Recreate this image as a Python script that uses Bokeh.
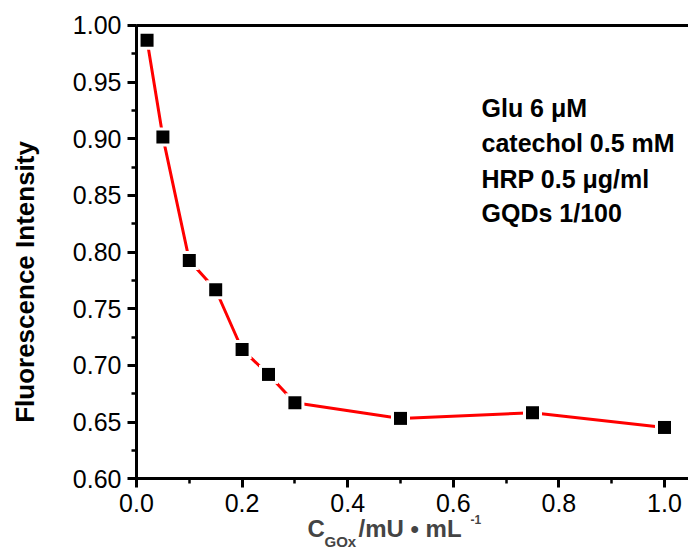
from bokeh.plotting import figure
from bokeh.models import (Range1d, SingleIntervalTicker, NumeralTickFormatter,
                          Label, LinearAxis, FixedTicker)
from bokeh.embed import file_html
from bokeh.resources import INLINE
import math

# ---- data ----
c_gox = [0.02, 0.05, 0.10, 0.15, 0.20, 0.25, 0.30, 0.50, 0.75, 1.00]
intensity = [0.987, 0.9015, 0.7927, 0.7668, 0.7141, 0.6921, 0.6671, 0.6533, 0.6583, 0.6453]
notes = ["Glu 6 \u03bcM", "catechol 0.5 mM", "HRP 0.5 \u03bcg/ml", "GQDs 1/100"]

FONT = "Liberation Sans"
W, H = 688, 550
X0PX, XSCALE = 136, 528.0       # pixel of x=0, pixels per unit
Y0PX, YSCALE = 478.3, 1133.3    # pixel of y=0.6, pixels per unit

x_start = -X0PX / XSCALE
x_end = (W - X0PX) / XSCALE
y_start = 0.6 - (H - Y0PX) / YSCALE
y_end = 0.6 + Y0PX / YSCALE

p = figure(width=W, height=H, output_backend="svg", toolbar_location=None,
           x_range=Range1d(x_start, x_end), y_range=Range1d(y_start, y_end),
           min_border=0, x_axis_type=None, y_axis_type=None)
p.outline_line_color = None
p.background_fill_color = "white"
p.border_fill_color = "white"


def style(ax):
    ax.axis_line_width = 3
    ax.axis_line_color = "black"
    ax.major_tick_line_width = 3
    ax.major_tick_in = 0
    ax.major_tick_out = 9
    ax.minor_tick_line_width = 2.5
    ax.minor_tick_in = 0
    ax.minor_tick_out = 5
    ax.major_label_text_font = FONT
    ax.major_label_text_font_size = "25px"
    ax.major_label_text_color = "black"
    ax.major_label_standoff = 6


xaxis = LinearAxis(ticker=SingleIntervalTicker(interval=0.2, num_minor_ticks=2),
                   formatter=NumeralTickFormatter(format="0.0"),
                   fixed_location=0.6, bounds=(0, x_end))
style(xaxis)
p.add_layout(xaxis, "below")

yaxis = LinearAxis(ticker=SingleIntervalTicker(interval=0.05, num_minor_ticks=2),
                   formatter=NumeralTickFormatter(format="0.00"),
                   fixed_location=0, bounds=(0.6, 1.0))
style(yaxis)
p.add_layout(yaxis, "left")

top = LinearAxis(ticker=FixedTicker(ticks=[]), fixed_location=1.0,
                 bounds=(0, x_end), axis_line_width=3, axis_line_color="black")
p.add_layout(top, "above")

# data
p.line(c_gox, intensity, line_color="red", line_width=3)
p.scatter(c_gox, intensity, marker="square", size=19, fill_color="white",
          line_color=None)
p.scatter(c_gox, intensity, marker="square", size=13, fill_color="black",
          line_color=None)

# y axis title
p.add_layout(Label(x=0, y=0.7737, x_offset=-112, text="Fluorescence Intensity",
                   angle=math.pi / 2, text_align="center", text_baseline="middle",
                   text_font=FONT, text_font_style="bold", text_font_size="26px",
                   text_color="black"))

# x axis title pieces
x0 = (307 - X0PX) / XSCALE
p.add_layout(Label(x=x0, y=0.6, x_offset=0, y_offset=-50, text="C",
                   text_baseline="alphabetic", text_font=FONT,
                   text_font_style="bold", text_font_size="24px"))
p.add_layout(Label(x=x0, y=0.6, x_offset=17, y_offset=-63, text="GOx",
                   text_baseline="alphabetic", text_font=FONT,
                   text_font_style="bold", text_font_size="15px"))
p.add_layout(Label(x=x0, y=0.6, x_offset=51, y_offset=-50,
                   text="/mU \u2022 mL", text_baseline="alphabetic", text_font=FONT,
                   text_font_style="bold", text_font_size="24px"))
p.add_layout(Label(x=x0, y=0.6, x_offset=163, y_offset=-41, text="-1",
                   text_baseline="alphabetic", text_font=FONT,
                   text_font_style="bold", text_font_size="12px"))

# annotation block
note_px = [107, 142, 178, 212]
for t, py in zip(notes, note_px):
    p.add_layout(Label(x=(481 - X0PX) / XSCALE, y=0.6 + (Y0PX - py) / YSCALE,
                       text=t, text_baseline="alphabetic", text_font=FONT,
                       text_font_style="bold", text_font_size="25px",
                       text_color="black"))

open("out.html", "w").write(file_html(p, INLINE))
